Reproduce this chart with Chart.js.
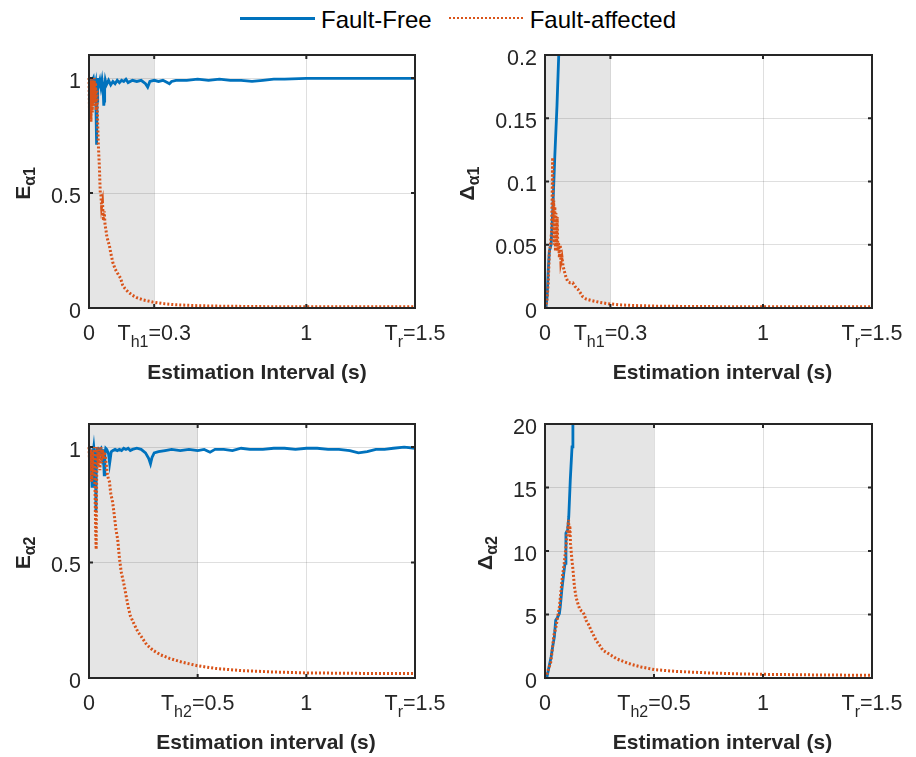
<!DOCTYPE html>
<html>
<head>
<meta charset="utf-8">
<title>Estimation interval</title>
<script src="https://cdn.jsdelivr.net/npm/chart.js@4.4.1/dist/chart.umd.min.js"></script>
<style>
  html, body { margin: 0; padding: 0; background: #fff; }
  #figure { position: relative; width: 916px; height: 757px; overflow: hidden; font-family: "Liberation Sans", Arial, sans-serif; }
  #figure canvas { position: absolute; }
  .legend { position: absolute; left: 240px; top: 8px; height: 24px; display: flex; align-items: center; font-size: 24px; line-height: 24px; color: #000; white-space: nowrap; }
  .legend .swatch { display: inline-block; height: 0; position: relative; top: -2px; }
  .legend .free { width: 75px; border-top: 3px solid #0072BD; }
  .legend .fault { width: 74px; border-top: 2px dotted #D95319; margin-left: 17px; }
  .legend .label-free { margin-left: 6px; }
  .legend .label-fault { margin-left: 7px; }
</style>
</head>
<body>
<div id="figure">
  <div class="legend">
    <span class="swatch free"></span><span class="label-free">Fault-Free</span>
    <span class="swatch fault"></span><span class="label-fault">Fault-affected</span>
  </div>
  <canvas id="chartE1" width="456" height="360" style="left:0;top:40px"></canvas>
  <canvas id="chartD1" width="460" height="360" style="left:456px;top:40px"></canvas>
  <canvas id="chartE2" width="456" height="357" style="left:0;top:400px"></canvas>
  <canvas id="chartD2" width="460" height="357" style="left:456px;top:400px"></canvas>
</div>
<script>
// ---- data ----

// E_alpha1
const e1FreeT = [0, 0.005, 0.01, 0.015, 0.02, 0.025, 0.03, 0.033, 0.035, 0.037, 0.04, 0.045, 0.05, 0.055, 0.06, 0.065, 0.068, 0.07, 0.072, 0.075,
  0.08, 0.09, 0.1, 0.11, 0.12, 0.13, 0.14, 0.15, 0.16, 0.17, 0.18, 0.2, 0.22, 0.24, 0.26, 0.27, 0.28, 0.3, 0.32, 0.34,
  0.36, 0.37, 0.38, 0.4, 0.45, 0.5, 0.55, 0.6, 0.65, 0.7, 0.75, 0.8, 0.85, 0.9, 1.0, 1.1, 1.2, 1.3, 1.4, 1.5];
const e1FreeV = [1.0, 0.99, 0.97, 0.99, 1.0, 0.96, 0.98, 0.82, 0.71, 0.9, 1.0, 0.97, 0.99, 0.96, 0.99, 0.95, 0.88, 0.9, 0.96, 0.99,
  0.97, 0.99, 0.97, 0.985, 0.975, 0.99, 0.98, 0.99, 0.985, 0.995, 0.98, 0.99, 0.985, 0.99, 0.975, 0.96, 0.985, 0.99, 0.985, 0.99,
  0.98, 0.975, 0.985, 0.99, 0.99, 0.995, 0.99, 0.995, 0.99, 0.99, 0.985, 0.99, 0.995, 0.995, 0.998, 0.998, 0.998, 0.998, 0.998, 0.998];
const e1FaultT = [0, 0.003, 0.006, 0.009, 0.012, 0.015, 0.018, 0.021, 0.024, 0.027, 0.03, 0.033, 0.036, 0.04, 0.043, 0.046, 0.048, 0.05, 0.052, 0.055,
  0.058, 0.062, 0.066, 0.07, 0.074, 0.078, 0.082, 0.088, 0.094, 0.1, 0.109, 0.12, 0.132, 0.145, 0.155, 0.165, 0.18, 0.2, 0.22, 0.25,
  0.293, 0.35, 0.4, 0.5, 0.6, 0.7, 0.8, 1.0, 1.2, 1.5];
const e1FaultV = [1.0, 0.82, 0.99, 0.81, 1.0, 0.85, 0.99, 0.88, 1.0, 0.9, 0.98, 0.86, 0.95, 0.8, 0.71, 0.65, 0.61, 0.55, 0.5, 0.49,
  0.44, 0.46, 0.38, 0.42, 0.36, 0.34, 0.31, 0.29, 0.27, 0.24, 0.2, 0.17, 0.15, 0.13, 0.1, 0.085, 0.07, 0.055, 0.045, 0.035,
  0.026, 0.018, 0.014, 0.01, 0.008, 0.007, 0.006, 0.005, 0.005, 0.005];

// Delta_alpha1
const d1FreeT = [0, 0.005, 0.01, 0.015, 0.02, 0.028, 0.035, 0.045, 0.055, 0.063, 0.075];
const d1FreeV = [0, 0.001, 0.01, 0.03, 0.045, 0.05, 0.075, 0.12, 0.16, 0.2, 0.25];
const d1FaultT = [0, 0.005, 0.01, 0.015, 0.02, 0.025, 0.03, 0.033, 0.035, 0.037, 0.04, 0.042, 0.045, 0.048, 0.05, 0.053, 0.056, 0.059, 0.062, 0.066,
  0.07, 0.073, 0.078, 0.083, 0.089, 0.095, 0.104, 0.115, 0.127, 0.138, 0.15, 0.162, 0.173, 0.19, 0.211, 0.25, 0.288, 0.35, 0.4, 0.5,
  0.6, 0.75, 1.0, 1.25, 1.5];
const d1FaultV = [0, 0.001, 0.008, 0.02, 0.044, 0.05, 0.06, 0.09, 0.119, 0.07, 0.085, 0.05, 0.08, 0.045, 0.075, 0.05, 0.072, 0.045, 0.052, 0.04,
  0.05, 0.036, 0.04, 0.033, 0.029, 0.025, 0.021, 0.02, 0.02, 0.017, 0.015, 0.012, 0.009, 0.007, 0.006, 0.0045, 0.0034, 0.0024, 0.002, 0.0015,
  0.0013, 0.0011, 0.001, 0.001, 0.001];

// E_alpha2
const e2FreeT = [0, 0.005, 0.01, 0.014, 0.018, 0.022, 0.026, 0.03, 0.032, 0.034, 0.037, 0.04, 0.045, 0.05, 0.055, 0.06, 0.065, 0.07, 0.073, 0.077,
  0.082, 0.09, 0.095, 0.098, 0.102, 0.11, 0.12, 0.13, 0.14, 0.15, 0.16, 0.17, 0.18, 0.19, 0.2, 0.22, 0.24, 0.26, 0.275, 0.283,
  0.29, 0.3, 0.32, 0.35, 0.38, 0.42, 0.46, 0.5, 0.53, 0.557, 0.58, 0.62, 0.66, 0.7, 0.74, 0.8, 0.85, 0.9, 0.95, 1.0,
  1.05, 1.1, 1.15, 1.2, 1.24, 1.28, 1.32, 1.36, 1.4, 1.45, 1.5];
const e2FreeV = [1.0, 0.99, 0.95, 0.83, 0.97, 1.0, 0.96, 0.9, 0.72, 0.94, 0.99, 1.0, 0.97, 0.99, 0.995, 0.96, 0.99, 0.88, 0.97, 0.995,
  0.99, 0.97, 0.93, 0.95, 0.98, 0.985, 0.99, 0.985, 0.99, 0.985, 0.995, 0.99, 0.995, 0.985, 0.99, 0.995, 0.99, 0.975, 0.95, 0.927,
  0.955, 0.975, 0.98, 0.985, 0.99, 0.985, 0.99, 0.985, 0.99, 0.978, 0.99, 0.99, 0.985, 0.995, 0.99, 0.99, 0.995, 0.995, 0.99, 0.995,
  0.995, 0.99, 0.99, 0.985, 0.975, 0.98, 0.99, 0.99, 0.995, 1.0, 0.995];
const e2FaultT = [0, 0.004, 0.008, 0.012, 0.016, 0.02, 0.024, 0.028, 0.031, 0.033, 0.035, 0.038, 0.042, 0.046, 0.05, 0.054, 0.058, 0.062, 0.066, 0.07,
  0.075, 0.08, 0.085, 0.09, 0.094, 0.1, 0.109, 0.117, 0.124, 0.132, 0.14, 0.148, 0.16, 0.17, 0.18, 0.19, 0.209, 0.225, 0.24, 0.265,
  0.293, 0.33, 0.37, 0.43, 0.5, 0.585, 0.7, 0.85, 1.0, 1.25, 1.5];
const e2FaultV = [1.0, 0.9, 0.99, 0.85, 0.98, 0.88, 1.0, 0.8, 0.62, 0.557, 0.85, 1.0, 0.92, 0.99, 0.9, 1.0, 0.93, 0.99, 0.95, 0.98,
  0.96, 0.92, 0.88, 0.86, 0.85, 0.8, 0.76, 0.7, 0.644, 0.6, 0.52, 0.46, 0.41, 0.36, 0.31, 0.27, 0.23, 0.2, 0.18, 0.145,
  0.121, 0.1, 0.085, 0.068, 0.053, 0.041, 0.032, 0.026, 0.022, 0.02, 0.019];

// Delta_alpha2
const d2FreeT = [0, 0.009, 0.02, 0.028, 0.035, 0.043, 0.049, 0.055, 0.066, 0.07, 0.077, 0.086, 0.092, 0.096, 0.104, 0.109, 0.116, 0.124, 0.128, 0.135];
const d2FreeV = [0, 0.08, 1.0, 1.66, 2.45, 3.24, 4.55, 4.69, 5.08, 5.6, 6.92, 8.24, 9.03, 11.4, 11.66, 12.7, 15.6, 18.2, 19.95, 22.5];
const d2FaultT = [0, 0.006, 0.012, 0.02, 0.026, 0.032, 0.04, 0.05, 0.058, 0.066, 0.073, 0.08, 0.088, 0.096, 0.102, 0.106, 0.108, 0.111, 0.114, 0.117,
  0.12, 0.124, 0.127, 0.131, 0.135, 0.142, 0.15, 0.158, 0.166, 0.173, 0.18, 0.188, 0.2, 0.211, 0.222, 0.234, 0.25, 0.265, 0.283, 0.303,
  0.33, 0.365, 0.4, 0.441, 0.502, 0.6, 0.75, 0.9, 1.0, 1.25, 1.5];
const d2FaultV = [0, 0.1, 0.5, 0.9, 1.2, 2.0, 3.3, 4.0, 4.8, 5.6, 6.8, 8.0, 9.0, 10.3, 11.5, 12.0, 12.45, 11.2, 12.0, 10.6,
  10.0, 9.2, 8.76, 8.0, 7.2, 6.4, 5.9, 5.48, 5.3, 5.21, 5.0, 4.55, 4.2, 3.76, 3.4, 2.97, 2.6, 2.19, 2.0, 1.79,
  1.5, 1.26, 1.05, 0.87, 0.66, 0.52, 0.4, 0.32, 0.29, 0.24, 0.21];

// thresholds (shaded intervals) and axes
const th1 = 0.3;
const th2 = 0.5;
const tr = 1.5;
const xTicks1 = [0, th1, 1, tr];
const xTickLabels1 = ['0', 'T_{h1}=0.3', '1', 'T_{r}=1.5'];
const xTicks2 = [0, th2, 1, tr];
const xTickLabels2 = ['0', 'T_{h2}=0.5', '1', 'T_{r}=1.5'];
const eTicks = [0, 0.5, 1];
const d1Ticks = [0, 0.05, 0.1, 0.15, 0.2];
const d2Ticks = [0, 5, 10, 15, 20];

// ---- drawing ----
const FONT = '"Liberation Sans", Arial, Helvetica, sans-serif';
const BLUE = '#0072BD';
const ORANGE = '#D95319';
const AXIS = '#262626';
const GRID = 'rgba(38, 38, 38, 0.15)';
const TICK_SIZE = 21.5;

const toPoints = (t, v) => t.map((x, i) => ({ x, y: v[i] }));

// split 'T_{h1}=0.3' into normal / subscript runs
function parseTex(s) {
  const parts = [];
  const re = /_\{([^}]*)\}/g;
  let last = 0, m;
  while ((m = re.exec(s))) {
    if (m.index > last) parts.push({ t: s.slice(last, m.index), sub: false });
    parts.push({ t: m[1], sub: true });
    last = re.lastIndex;
  }
  if (last < s.length) parts.push({ t: s.slice(last), sub: false });
  return parts;
}

function drawTex(ctx, s, x, y, o) {
  const parts = parseTex(s);
  const fontOf = p => `${o.weight} ${p.sub ? o.sub : o.size}px ${FONT}`;
  let w = 0;
  parts.forEach(p => { ctx.font = fontOf(p); p.w = ctx.measureText(p.t).width; w += p.w; });
  let cx = o.align === 'center' ? x - w / 2 : (o.align === 'right' ? x - w : x);
  ctx.textAlign = 'left';
  ctx.textBaseline = 'alphabetic';
  parts.forEach(p => {
    ctx.font = fontOf(p);
    ctx.fillText(p.t, cx, y + (p.sub ? o.drop : 0));
    cx += p.w;
  });
}

const decor = {
  id: 'decor',
  beforeDraw(chart, args, o) {
    const { ctx, chartArea: a, scales } = chart;
    const xr = scales.x.getPixelForValue(o.shadeTo);
    ctx.save();
    ctx.fillStyle = '#e5e5e5';
    ctx.fillRect(a.left, a.top, xr - a.left, a.bottom - a.top);
    ctx.restore();
  },
  afterDraw(chart, args, o) {
    const { ctx, chartArea: a, scales: { x, y } } = chart;
    ctx.save();

    // axes box with inward tick marks
    ctx.strokeStyle = AXIS;
    ctx.lineWidth = 2;
    ctx.strokeRect(a.left, a.top, a.right - a.left, a.bottom - a.top);
    ctx.beginPath();
    x.ticks.forEach(t => {
      const px = x.getPixelForValue(t.value);
      ctx.moveTo(px, a.bottom); ctx.lineTo(px, a.bottom - 4);
      ctx.moveTo(px, a.top); ctx.lineTo(px, a.top + 4);
    });
    y.ticks.forEach(t => {
      const py = y.getPixelForValue(t.value);
      ctx.moveTo(a.left, py); ctx.lineTo(a.left + 4, py);
      ctx.moveTo(a.right, py); ctx.lineTo(a.right - 4, py);
    });
    ctx.stroke();

    ctx.fillStyle = AXIS;

    // y tick labels
    ctx.font = `${TICK_SIZE}px ${FONT}`;
    ctx.textAlign = 'right';
    ctx.textBaseline = 'alphabetic';
    let widest = 0;
    y.ticks.forEach(t => {
      widest = Math.max(widest, ctx.measureText(t.label).width);
      ctx.fillText(t.label, a.left - 8, y.getPixelForValue(t.value) + 9.5);
    });

    // x tick labels (with subscripts)
    x.ticks.forEach((t, i) => {
      drawTex(ctx, o.xLabels[i], x.getPixelForValue(t.value), a.bottom + 31.5,
        { size: TICK_SIZE, sub: 16, drop: 7.5, weight: 'normal', align: 'center' });
    });

    // x axis title
    ctx.font = `bold 21px ${FONT}`;
    ctx.textAlign = 'center';
    ctx.textBaseline = 'middle';
    ctx.fillText(o.xTitle, (a.left + a.right) / 2 + o.xTitleShift, a.bottom + 65);

    // y axis title, placed beside the widest tick label
    ctx.translate(a.left - 8 - widest - 21.5, (a.top + a.bottom) / 2 + 2);
    ctx.rotate(-Math.PI / 2);
    drawTex(ctx, o.yTitle, 0, 0, { size: 21, sub: 16, drop: 5, weight: 'bold', align: 'center' });

    ctx.restore();
  }
};

function makeChart(id, cfg) {
  const grid = { color: GRID, lineWidth: 1, drawTicks: false };
  const clip = { left: 2, top: 0, right: 2, bottom: 3 };
  return new Chart(document.getElementById(id), {
    type: 'line',
    data: {
      datasets: [
        {
          label: 'Fault-Free',
          data: toPoints(cfg.freeT, cfg.freeV),
          borderColor: BLUE,
          borderWidth: 2.8,
          clip: clip,
          order: 1
        },
        {
          label: 'Fault-affected',
          data: toPoints(cfg.faultT, cfg.faultV),
          borderColor: ORANGE,
          borderWidth: 3,
          borderDash: [2, 2],
          clip: clip,
          order: 0
        }
      ]
    },
    options: {
      responsive: false,
      animation: false,
      events: [],
      layout: { autoPadding: false, padding: { left: 0, top: cfg.padTop, right: cfg.padRight, bottom: 0 } },
      elements: { point: { radius: 0 }, line: { tension: 0, fill: false, borderCapStyle: 'butt' } },
      scales: {
        x: {
          type: 'linear',
          min: 0,
          max: tr,
          afterBuildTicks: ax => { ax.ticks = cfg.xTicks.map(v => ({ value: v })); },
          afterFit: ax => { ax.height = cfg.xAxisHeight; },
          ticks: { display: false },
          grid: grid,
          border: { display: false }
        },
        y: {
          type: 'linear',
          min: 0,
          max: cfg.yMax,
          afterBuildTicks: ax => { ax.ticks = cfg.yTicks.map(v => ({ value: v })); },
          afterFit: ax => { ax.width = 89; },
          ticks: { display: false, callback: v => String(v) },
          grid: grid,
          border: { display: false }
        }
      },
      plugins: {
        legend: { display: false },
        tooltip: { enabled: false },
        decor: {
          shadeTo: cfg.shadeTo,
          xLabels: cfg.xLabels,
          xTitle: cfg.xTitle,
          xTitleShift: cfg.xTitleShift,
          yTitle: cfg.yTitle
        }
      }
    },
    plugins: [decor]
  });
}

makeChart('chartE1', {
  freeT: e1FreeT, freeV: e1FreeV, faultT: e1FaultT, faultV: e1FaultV,
  yMax: 1.1, yTicks: eTicks, xTicks: xTicks1, xLabels: xTickLabels1, shadeTo: th1,
  xTitle: 'Estimation Interval (s)', xTitleShift: 5, yTitle: 'E_{α1}',
  padTop: 15, padRight: 41, xAxisHeight: 92
});
makeChart('chartD1', {
  freeT: d1FreeT, freeV: d1FreeV, faultT: d1FaultT, faultV: d1FaultV,
  yMax: 0.2, yTicks: d1Ticks, xTicks: xTicks1, xLabels: xTickLabels1, shadeTo: th1,
  xTitle: 'Estimation interval (s)', xTitleShift: 14, yTitle: 'Δ_{α1}',
  padTop: 15, padRight: 44, xAxisHeight: 92
});
makeChart('chartE2', {
  freeT: e2FreeT, freeV: e2FreeV, faultT: e2FaultT, faultV: e2FaultV,
  yMax: 1.1, yTicks: eTicks, xTicks: xTicks2, xLabels: xTickLabels2, shadeTo: th2,
  xTitle: 'Estimation interval (s)', xTitleShift: 14, yTitle: 'E_{α2}',
  padTop: 24, padRight: 41, xAxisHeight: 79
});
makeChart('chartD2', {
  freeT: d2FreeT, freeV: d2FreeV, faultT: d2FaultT, faultV: d2FaultV,
  yMax: 20, yTicks: d2Ticks, xTicks: xTicks2, xLabels: xTickLabels2, shadeTo: th2,
  xTitle: 'Estimation interval (s)', xTitleShift: 14, yTitle: 'Δ_{α2}',
  padTop: 24, padRight: 44, xAxisHeight: 79
});
</script>
</body>
</html>
